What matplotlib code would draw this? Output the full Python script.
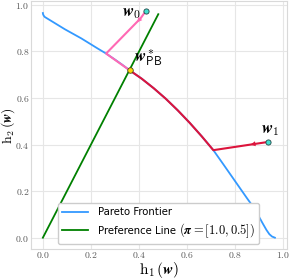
import matplotlib
matplotlib.use("Agg")
import matplotlib.pyplot as plt
from matplotlib.ticker import FuncFormatter
from matplotlib.offsetbox import TextArea, HPacker

plt.rcParams['mathtext.fontset'] = 'cm'
plt.rcParams['font.family'] = 'DejaVu Sans'

# pareto frontier
front_h1 = [0.0, 0.001, 0.004, 0.008, 0.016, 0.092, 0.16, 0.229, 0.263, 0.3, 0.33,
            0.361, 0.411, 0.461, 0.511, 0.561, 0.611, 0.661, 0.709, 0.75, 0.8,
            0.85, 0.88, 0.9, 0.915, 0.93, 0.942, 0.953, 0.965]
front_h2 = [0.965, 0.959, 0.953, 0.948, 0.943, 0.895, 0.856, 0.812, 0.791, 0.765, 0.743,
            0.719, 0.683, 0.642, 0.597, 0.547, 0.493, 0.435, 0.376, 0.316, 0.242,
            0.168, 0.125, 0.088, 0.06, 0.033, 0.015, 0.005, 0.0]

# preference line pi = [1.0, 0.5]
pref_h1 = [0.0, 0.48]
pref_h2 = [0.0, 0.96]

# path from w0
pink_h1 = [0.428, 0.407, 0.263, 0.361]
pink_h2 = [0.974, 0.943, 0.791, 0.719]

# path from w1
red_h1 = [0.935, 0.709, 0.661, 0.611, 0.561, 0.511, 0.461, 0.411, 0.361]
red_h2 = [0.411, 0.376, 0.435, 0.493, 0.547, 0.597, 0.642, 0.683, 0.719]

w0 = (0.428, 0.974)
w1 = (0.935, 0.411)
wpb = (0.361, 0.719)

fig = plt.figure(figsize=(2.91, 2.79), dpi=100)
ax = fig.add_axes([0.106, 0.108, 0.88, 0.887])

ax.plot(front_h1, front_h2, color='#3399ff', lw=1.3, label='Pareto Frontier', zorder=2)
ax.plot(pref_h1, pref_h2, color='green', lw=1.3, label='Preference Line', zorder=2)
ax.plot(pink_h1, pink_h2, color='hotpink', lw=1.5, zorder=3)
ax.plot(red_h1, red_h2, color='crimson', lw=1.5, zorder=3)

ax.annotate('', xy=(0.392, 0.925), xytext=(0.405, 0.941),
            arrowprops=dict(arrowstyle='-|>', color='hotpink', lw=0, mutation_scale=9), zorder=4)
ax.annotate('', xy=(0.852, 0.398), xytext=(0.875, 0.402),
            arrowprops=dict(arrowstyle='-|>', color='crimson', lw=0, mutation_scale=9), zorder=4)

ax.scatter([w0[0], w1[0]], [w0[1], w1[1]], s=14, color='turquoise', edgecolor='#224444', lw=0.6, zorder=5)
ax.scatter([wpb[0]], [wpb[1]], s=16, color='gold', edgecolor='#444422', lw=0.6, zorder=5)

ax.annotate(r'$\boldsymbol{w}_0$', xy=w0, xytext=(-3, -1), textcoords='offset points',
            ha='right', va='center', fontsize=12)
ax.annotate(r'$\boldsymbol{w}^*_{\mathsf{PB}}$', xy=wpb, xytext=(3, 1), textcoords='offset points',
            ha='left', va='bottom', fontsize=12)
ax.annotate(r'$\boldsymbol{w}_1$', xy=w1, xytext=(2, 3), textcoords='offset points',
            ha='center', va='bottom', fontsize=12)

ax.set_xlim(-0.05, 1.015)
ax.set_ylim(-0.048, 1.015)
ax.set_xticks([0.0, 0.2, 0.4, 0.6, 0.8, 1.0])
ax.set_yticks([0.0, 0.2, 0.4, 0.6, 0.8, 1.0])
fmt = FuncFormatter(lambda v, p: r'$%.1f$' % v)
ax.xaxis.set_major_formatter(fmt)
ax.yaxis.set_major_formatter(fmt)
ax.tick_params(length=0, labelsize=7, labelcolor='0.35', pad=1)
ax.grid(True, color='0.9', lw=0.8)
ax.set_axisbelow(True)
for s in ax.spines.values():
    s.set_color('0.85')
    s.set_linewidth(0.8)

ax.set_xlabel(r'$\mathrm{h}_1\,(\boldsymbol{w})$', fontsize=11)
ax.set_ylabel(r'$\mathrm{h}_2\,(\boldsymbol{w})$', fontsize=10)
ax.xaxis.set_label_coords(0.5, -0.045)
ax.yaxis.set_label_coords(-0.053, 0.5)

leg = ax.legend(loc='lower center', fontsize=7.3, framealpha=1, edgecolor='0.8', fancybox=True,
                borderaxespad=0.5, handlelength=2.5, handletextpad=1.0, labelspacing=0.4)
# math part of the second label is set larger than the text
item = leg._legend_handle_box.get_children()[0].get_children()[1]
txt_area = item.get_children()[1]
math_area = TextArea(r'$(\boldsymbol{\pi}=[1.0, 0.5])$', textprops=dict(fontsize=9.0))
item.get_children()[1] = HPacker(children=[txt_area, math_area], pad=0, sep=2.5, align='baseline')
leg._legend_box.set_figure(fig)

fig.savefig('out.png', dpi=100)
